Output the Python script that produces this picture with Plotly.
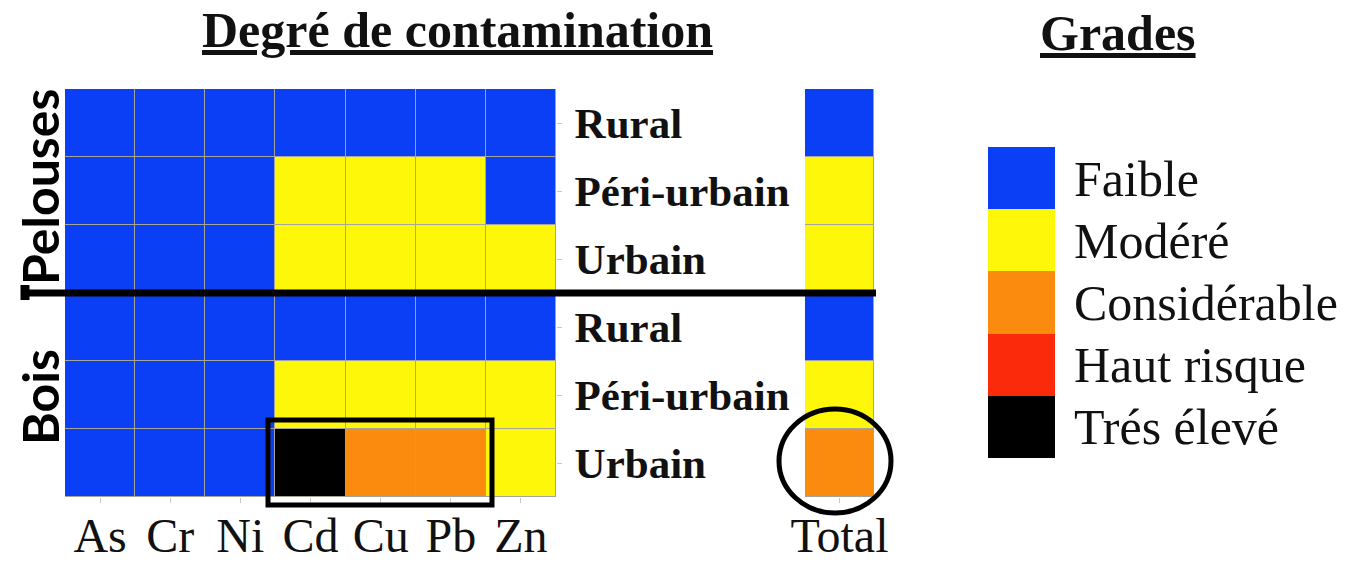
import plotly.graph_objects as go

# data
elements = ['As', 'Cr', 'Ni', 'Cd', 'Cu', 'Pb', 'Zn']
sites = ['Rural', 'Péri-urbain', 'Urbain', 'Rural', 'Péri-urbain', 'Urbain']
groups = ['Pelouses', 'Bois']
grades = ['Faible', 'Modéré', 'Considérable', 'Haut risque', 'Trés élevé']
grade_colors = ['#0b3ff6', '#fef70a', '#fb8b0e', '#fb2a0b', '#000000']

# 0 = Faible ... 4 = Trés élevé ; rows: Pelouses (3) then Bois (3)
pelouses_rural = [0, 0, 0, 0, 0, 0, 0]
pelouses_peri = [0, 0, 0, 1, 1, 1, 0]
pelouses_urbain = [0, 0, 0, 1, 1, 1, 1]
bois_rural = [0, 0, 0, 0, 0, 0, 0]
bois_peri = [0, 0, 0, 1, 1, 1, 1]
bois_urbain = [0, 0, 0, 4, 2, 2, 1]
total = [0, 1, 1, 0, 1, 2]

# page body has an 8px margin, so the figure is drawn inside it
OFF = 8
W, H = 1355 - 2 * OFF, 564 - 2 * OFF


def px_x(p):
    return (p - OFF) / W


def px_y(p):
    return 1 - (p - OFF) / H


# discrete colorscale
n = len(grade_colors)
scale = []
for i, c in enumerate(grade_colors):
    scale.append([i / n, c])
    scale.append([(i + 1) / n, c])

row_idx = list(range(len(sites)))
z_main = [pelouses_rural, pelouses_peri, pelouses_urbain,
          bois_rural, bois_peri, bois_urbain]

fig = go.Figure()
fig.add_trace(go.Heatmap(
    z=z_main, x=elements, y=row_idx, colorscale=scale, zmin=-0.5, zmax=n - 0.5,
    showscale=False, xgap=1, ygap=1, xaxis='x', yaxis='y', hoverinfo='skip'))
fig.add_trace(go.Heatmap(
    z=[[v] for v in total], x=['Total'], y=row_idx, colorscale=scale,
    zmin=-0.5, zmax=n - 0.5, showscale=False, xgap=1, ygap=1,
    xaxis='x2', yaxis='y2', hoverinfo='skip'))
fig.add_trace(go.Heatmap(
    z=[[i] for i in range(n)], x=['grade'], y=list(range(n)), colorscale=scale,
    zmin=-0.5, zmax=n - 0.5, showscale=False, xaxis='x3', yaxis='y3',
    hoverinfo='skip'))

serif = 'Liberation Serif'
tick_col = '#c8c8c8'
ydom = [px_y(497), px_y(89)]
yrange = [len(sites) - 0.5, -0.5]

fig.update_layout(
    width=W, height=H, margin=dict(l=0, r=0, t=0, b=0),
    paper_bgcolor='white', plot_bgcolor='#a4a49a', showlegend=False,
    xaxis=dict(domain=[px_x(65), px_x(556)], type='category', showgrid=False,
               range=[-0.5, len(elements) - 0.5], automargin=False,
               zeroline=False, ticks='outside', ticklen=5, tickcolor=tick_col,
               tickfont=dict(family=serif, size=48, color='#111'),
               ticklabelstandoff=-9),
    yaxis=dict(domain=ydom, side='right', range=yrange, showgrid=False,
               automargin=False, zeroline=False, tickvals=row_idx,
               ticktext=[f'<b>{s}</b>' for s in sites],
               ticks='outside', ticklen=5, tickcolor=tick_col,
               tickfont=dict(family=serif, size=43, color='#111'),
               ticklabelstandoff=4),
    xaxis2=dict(domain=[px_x(805), px_x(874)], type='category', showgrid=False,
                range=[-0.5, 0.5], automargin=False,
                zeroline=False, anchor='y2', ticks='outside', ticklen=5,
                tickcolor=tick_col,
                tickfont=dict(family=serif, size=48, color='#111'),
                ticklabelstandoff=-9),
    yaxis2=dict(domain=ydom, anchor='x2', range=yrange, automargin=False,
                showgrid=False, zeroline=False, showticklabels=False),
    xaxis3=dict(domain=[px_x(988), px_x(1055)], anchor='y3', showgrid=False,
                range=[-0.5, 0.5], automargin=False,
                zeroline=False, showticklabels=False),
    yaxis3=dict(domain=[px_y(458), px_y(147)], anchor='x3', side='right',
                range=[n - 0.5, -0.5], automargin=False,
                showgrid=False, zeroline=False,
                tickvals=list(range(n)), ticktext=grades,
                tickfont=dict(family=serif, size=50, color='#111'),
                ticklabelstandoff=18),
)

# separator between Pelouses and Bois, plus highlights
fig.add_shape(type='line', xref='paper', yref='y', x0=px_x(22), x1=px_x(876),
              y0=2.5, y1=2.5, line=dict(color='black', width=7))
fig.add_shape(type='line', xref='paper', yref='paper', x0=px_x(25), x1=px_x(25),
              y0=px_y(285), y1=px_y(300), line=dict(color='black', width=9))
fig.add_shape(type='rect', xref='paper', yref='paper', x0=px_x(268), x1=px_x(492),
              y0=px_y(420), y1=px_y(505), line=dict(color='black', width=5))
fig.add_shape(type='circle', xref='paper', yref='paper', x0=px_x(779), x1=px_x(891),
              y0=px_y(409), y1=px_y(513), line=dict(color='black', width=5))

fig.add_annotation(text='<b>Degré de contamination</b>', x=px_x(457), y=px_y(30),
                   xref='paper', yref='paper', showarrow=False,
                   xanchor='center', yanchor='middle',
                   font=dict(family=serif, size=50, color='#111', lineposition='under'))
fig.add_annotation(text='<b>Grades</b>', x=px_x(1118), y=px_y(33),
                   xref='paper', yref='paper', showarrow=False,
                   xanchor='center', yanchor='middle',
                   font=dict(family=serif, size=50, color='#111', lineposition='under'))
fig.add_annotation(text='<b>Pelouses</b>', x=px_x(40), y=px_y(187),
                   xref='paper', yref='paper', showarrow=False, textangle=-90,
                   xanchor='center', yanchor='middle',
                   font=dict(family='Lato', size=50, color='black'))
fig.add_annotation(text='<b>Bois</b>', x=px_x(40), y=px_y(397),
                   xref='paper', yref='paper', showarrow=False, textangle=-90,
                   xanchor='center', yanchor='middle',
                   font=dict(family='Lato', size=50, color='black'))

fig.write_html("out.html")
